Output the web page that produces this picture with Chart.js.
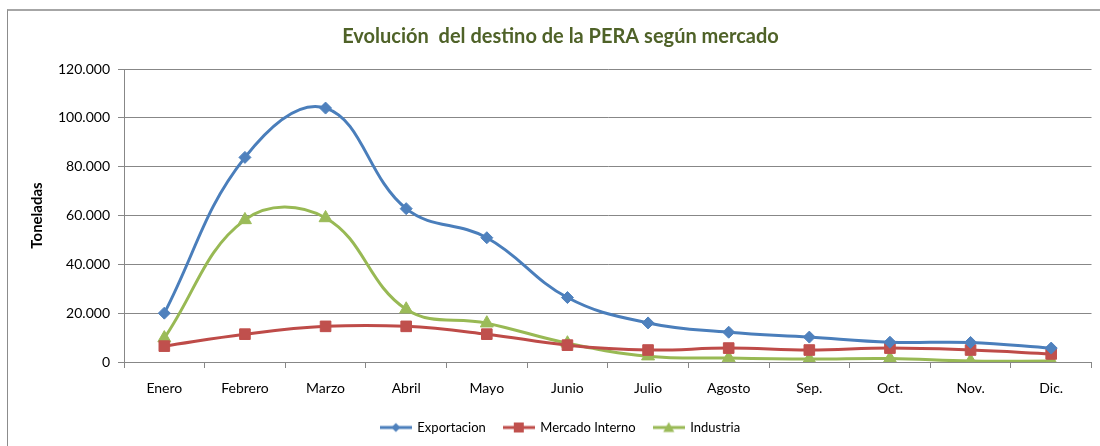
<!DOCTYPE html>
<html lang="es">
<head>
    <meta charset="UTF-8">
    <title>Evolución del destino de la PERA</title>
    <style>
        html, body {
            margin: 0;
            padding: 0;
            background: #fff;
        }
        body {
            width: 1100px;
            height: 446px;
            overflow: hidden;
            position: relative;
        }
        .frame {
            position: absolute;
            left: 7px;
            top: 9px;
            width: 1200px;
            height: 600px;
            border-top: 2px solid #a6a6a6;
            border-left: 1px solid #8c8c8c;
        }
        .chart-box {
            position: absolute;
            left: 0;
            top: 0;
            width: 1100px;
            height: 446px;
        }
    </style>
</head>
<body>
    <div class="frame"></div>
    <div class="chart-box">
        <canvas id="pera-chart"></canvas>
    </div>
    <script src="https://cdn.jsdelivr.net/npm/chart.js"></script>

    <script>
        // DATA (toneladas)

        const meses = ["Enero", "Febrero", "Marzo", "Abril", "Mayo", "Junio",
                       "Julio", "Agosto", "Sep.", "Oct.", "Nov.", "Dic."]

        const exportacion = [20000, 83800, 104000, 62800, 50900, 26400, 16000, 12200, 10200, 8100, 8000, 5700]

        const mercadoInterno = [6500, 11400, 14600, 14600, 11400, 6900, 4900, 5700, 4900, 5700, 4900, 3300]

        const industria = [9800, 58200, 59000, 21600, 15900, 7700, 2400, 1600, 1200, 1400, 400, 400]

        const yTicks = [0, 20000, 40000, 60000, 80000, 100000, 120000]
    </script>

    <script>
        const gridGray = '#878787';
        const family = 'Lato, "Open Sans", sans-serif';

        // numero con punto de miles: 120000 -> 120.000
        const fmt = (v) => String(v).replace(/\B(?=(\d{3})+(?!\d))/g, '.');

        const drawMarker = (ctx, style, x, y, r) => {
            ctx.beginPath();
            if (style === 'rectRot') {
                ctx.moveTo(x, y - r);
                ctx.lineTo(x + r, y);
                ctx.lineTo(x, y + r);
                ctx.lineTo(x - r, y);
            } else if (style === 'rect') {
                ctx.rect(x - r, y - r, 2 * r, 2 * r);
            } else {
                ctx.moveTo(x, y - r);
                ctx.lineTo(x + r, y + r * 0.8);
                ctx.lineTo(x - r, y + r * 0.8);
            }
            ctx.closePath();
            ctx.fill();
        }

        // legend symbol: line with marker in the middle
        const legendIcon = (lineColor, fillColor, style, r) => {
            const c = document.createElement('canvas');
            c.width = 32;
            c.height = 14;
            const ctx = c.getContext('2d');
            ctx.strokeStyle = lineColor;
            ctx.lineWidth = 3;
            ctx.beginPath();
            ctx.moveTo(0, 7);
            ctx.lineTo(32, 7);
            ctx.stroke();
            ctx.fillStyle = fillColor;
            drawMarker(ctx, style, 16, 7, r);
            return c;
        }

        const series = [
            { label: 'Exportacion', data: exportacion, line: '#4a7ebb', fill: '#4f81bd', style: 'rectRot', radius: 6, icon: 4.5 },
            { label: 'Mercado Interno', data: mercadoInterno, line: '#be4b48', fill: '#c0504d', style: 'rect', radius: 7.5, icon: 5 },
            { label: 'Industria', data: industria, line: '#98b954', fill: '#9bbb59', style: 'triangle', radius: 7.5, icon: 5.5 }
        ]

        const icons = series.map(s => legendIcon(s.line, s.fill, s.style, s.icon));

        const getData = () => {
            return {
                labels: meses,
                datasets: series.map(s => ({
                    label: s.label,
                    data: s.data,
                    borderColor: s.line,
                    backgroundColor: s.fill,
                    borderWidth: 3,
                    tension: 0.4,
                    pointStyle: s.style,
                    pointRadius: s.radius,
                    pointBackgroundColor: s.fill,
                    pointBorderColor: s.fill,
                    pointBorderWidth: 1,
                    fill: false
                }))
            }
        }

        const config = {
            type: 'line',
            data: getData(),
            options: {
                responsive: true,
                maintainAspectRatio: false,
                animation: false,
                layout: {
                    padding: { left: 24, right: 3, top: 0, bottom: 2 }
                },
                scales: {
                    x: {
                        offset: true,
                        grid: {
                            offset: true,
                            drawOnChartArea: false,
                            drawTicks: true,
                            tickLength: 6,
                            color: gridGray
                        },
                        border: { color: gridGray, width: 1 },
                        ticks: {
                            color: '#000',
                            padding: 12,
                            maxRotation: 0,
                            font: { family: family, size: 14 }
                        },
                        afterFit: (scale) => { scale.height = 41; }
                    },
                    y: {
                        min: 0,
                        max: 120000,
                        afterBuildTicks: (scale) => { scale.ticks = yTicks.map(v => ({ value: v })); },
                        grid: {
                            color: gridGray,
                            tickLength: 6
                        },
                        border: { color: gridGray, width: 1 },
                        ticks: {
                            color: '#000',
                            padding: 8,
                            callback: (v) => fmt(v),
                            font: { family: family, size: 14 }
                        },
                        title: {
                            display: true,
                            text: 'Toneladas',
                            color: '#000',
                            padding: { top: 4, bottom: 0 },
                            font: { family: family, size: 15, weight: 'bold' }
                        },
                        afterFit: (scale) => { scale.width = 100; }
                    }
                },
                plugins: {
                    title: {
                        display: true,
                        text: 'Evolución  del destino de la PERA según mercado',
                        color: '#4f6228',
                        padding: { top: 25, bottom: 20 },
                        font: { family: family, size: 20, weight: 'bold' }
                    },
                    legend: {
                        position: 'bottom',
                        labels: {
                            usePointStyle: true,
                            pointStyleWidth: 30,
                            padding: 18,
                            color: '#000',
                            font: { family: family, size: 13 },
                            generateLabels: (chart) => {
                                const items = Chart.defaults.plugins.legend.labels.generateLabels(chart);
                                items.forEach((it, i) => { it.pointStyle = icons[i]; });
                                return items;
                            }
                        }
                    },
                    tooltip: { enabled: false }
                }
            }
        };

        // renders chart
        new Chart(document.getElementById('pera-chart'), config);
    </script>
</body>
</html>
